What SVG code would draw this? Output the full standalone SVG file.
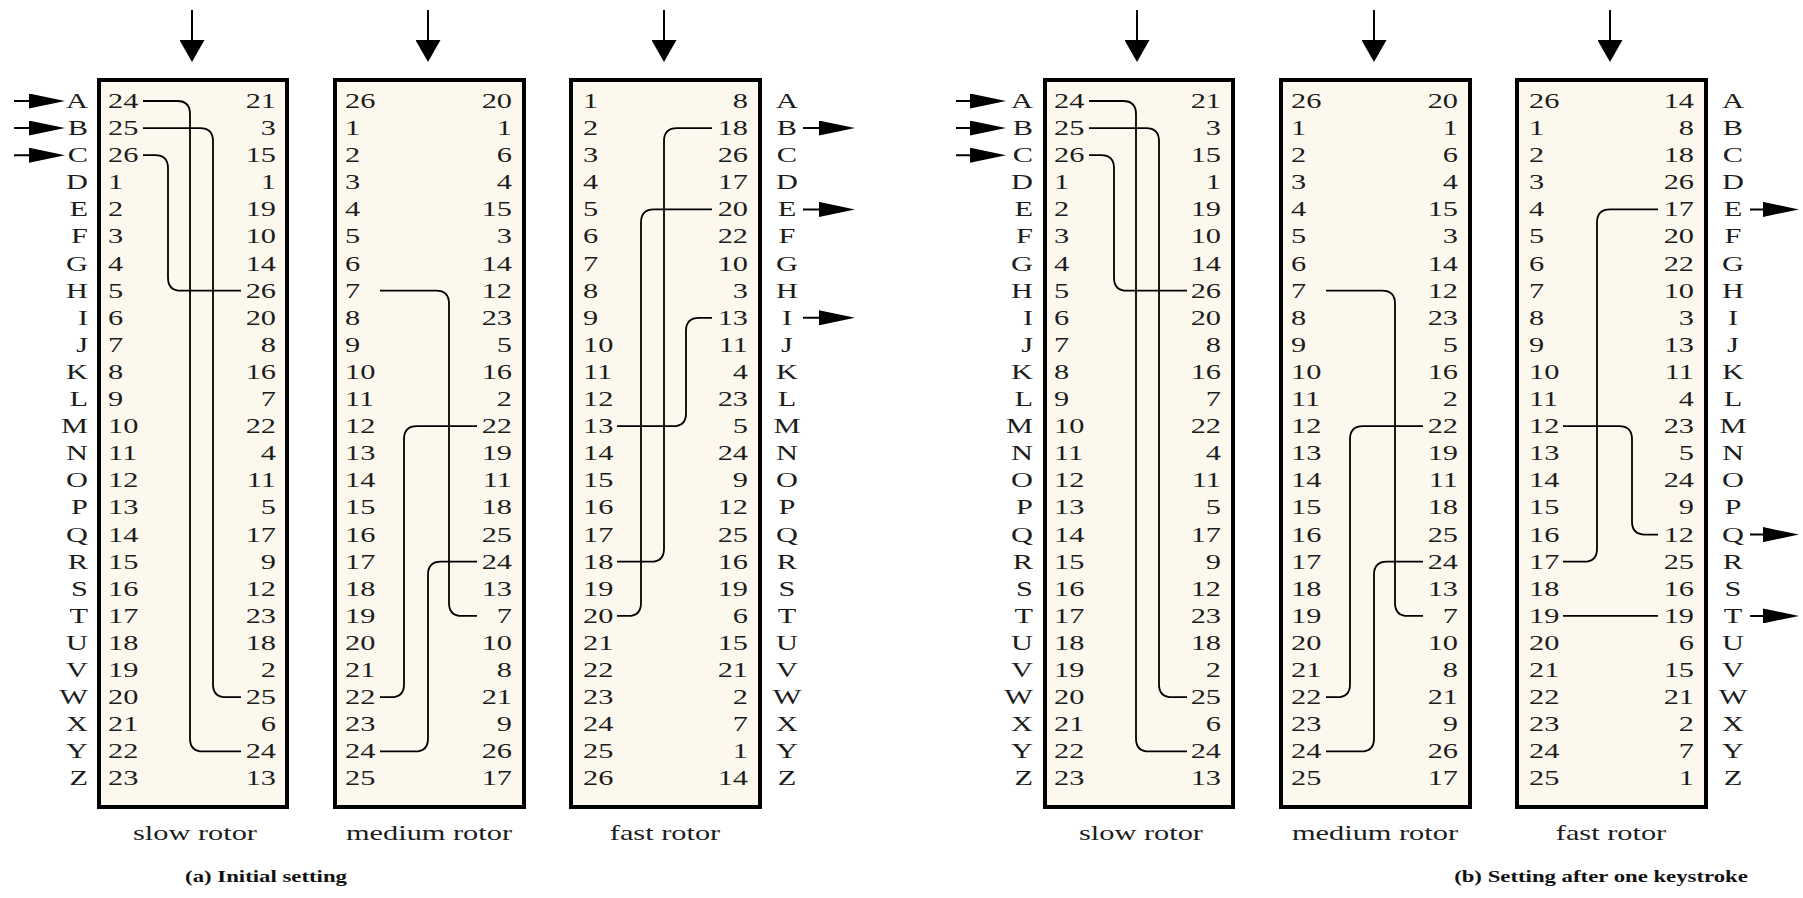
<svg xmlns="http://www.w3.org/2000/svg" width="1803" height="898" viewBox="0 0 1803 898">
<style>
  .t{font-family:"Liberation Serif","Times New Roman",serif;font-size:22px;fill:#1c1c1c}
  .e{text-anchor:end}
  .m{text-anchor:middle}
  .cap{font-family:"Liberation Serif","Times New Roman",serif;font-size:16.5px;font-weight:bold;fill:#111;text-anchor:middle}
  .box{fill:#fdf8ee;stroke:#000;stroke-width:4}
  .w{fill:none;stroke:#000;stroke-width:1.8}
  .ah{fill:none;stroke:#000;stroke-width:2}
</style>
<defs>
  <marker id="hd" viewBox="0 0 36 15" refX="26" refY="7.5" markerWidth="36" markerHeight="15" markerUnits="userSpaceOnUse" orient="auto">
    <path d="M0 0 L36 7.5 L0 15 Z" fill="#000"/>
  </marker>
  <marker id="vd" viewBox="0 0 22 25" refX="12" refY="12.5" markerWidth="22" markerHeight="25" markerUnits="userSpaceOnUse" orient="auto">
    <path d="M0 0 L22 12.5 L0 25 Z" fill="#000"/>
  </marker>
</defs>
<rect width="1803" height="898" fill="#fff"/>

<!-- (a) initial setting -->
<g id="letters-in-a" transform="translate(88 0) scale(1.38 1)">
  <text class="t e"><tspan x="0" y="108">A</tspan><tspan x="0" dy="27.1">B</tspan><tspan x="0" dy="27.1">C</tspan><tspan x="0" dy="27.1">D</tspan><tspan x="0" dy="27.1">E</tspan><tspan x="0" dy="27.1">F</tspan><tspan x="0" dy="27.1">G</tspan><tspan x="0" dy="27.1">H</tspan><tspan x="0" dy="27.1">I</tspan><tspan x="0" dy="27.1">J</tspan><tspan x="0" dy="27.1">K</tspan><tspan x="0" dy="27.1">L</tspan><tspan x="0" dy="27.1">M</tspan><tspan x="0" dy="27.1">N</tspan><tspan x="0" dy="27.1">O</tspan><tspan x="0" dy="27.1">P</tspan><tspan x="0" dy="27.1">Q</tspan><tspan x="0" dy="27.1">R</tspan><tspan x="0" dy="27.1">S</tspan><tspan x="0" dy="27.1">T</tspan><tspan x="0" dy="27.1">U</tspan><tspan x="0" dy="27.1">V</tspan><tspan x="0" dy="27.1">W</tspan><tspan x="0" dy="27.1">X</tspan><tspan x="0" dy="27.1">Y</tspan><tspan x="0" dy="27.1">Z</tspan></text>
</g>

<g id="slow-rotor-a">
  <rect class="box" x="99" y="80" width="188" height="727"/>
  <g transform="translate(108 0) scale(1.38 1)">
    <text class="t"><tspan x="0" y="108">24</tspan><tspan x="0" dy="27.1">25</tspan><tspan x="0" dy="27.1">26</tspan><tspan x="0" dy="27.1">1</tspan><tspan x="0" dy="27.1">2</tspan><tspan x="0" dy="27.1">3</tspan><tspan x="0" dy="27.1">4</tspan><tspan x="0" dy="27.1">5</tspan><tspan x="0" dy="27.1">6</tspan><tspan x="0" dy="27.1">7</tspan><tspan x="0" dy="27.1">8</tspan><tspan x="0" dy="27.1">9</tspan><tspan x="0" dy="27.1">10</tspan><tspan x="0" dy="27.1">11</tspan><tspan x="0" dy="27.1">12</tspan><tspan x="0" dy="27.1">13</tspan><tspan x="0" dy="27.1">14</tspan><tspan x="0" dy="27.1">15</tspan><tspan x="0" dy="27.1">16</tspan><tspan x="0" dy="27.1">17</tspan><tspan x="0" dy="27.1">18</tspan><tspan x="0" dy="27.1">19</tspan><tspan x="0" dy="27.1">20</tspan><tspan x="0" dy="27.1">21</tspan><tspan x="0" dy="27.1">22</tspan><tspan x="0" dy="27.1">23</tspan></text>
  </g>
  <g transform="translate(276 0) scale(1.38 1)">
    <text class="t e"><tspan x="0" y="108">21</tspan><tspan x="0" dy="27.1">3</tspan><tspan x="0" dy="27.1">15</tspan><tspan x="0" dy="27.1">1</tspan><tspan x="0" dy="27.1">19</tspan><tspan x="0" dy="27.1">10</tspan><tspan x="0" dy="27.1">14</tspan><tspan x="0" dy="27.1">26</tspan><tspan x="0" dy="27.1">20</tspan><tspan x="0" dy="27.1">8</tspan><tspan x="0" dy="27.1">16</tspan><tspan x="0" dy="27.1">7</tspan><tspan x="0" dy="27.1">22</tspan><tspan x="0" dy="27.1">4</tspan><tspan x="0" dy="27.1">11</tspan><tspan x="0" dy="27.1">5</tspan><tspan x="0" dy="27.1">17</tspan><tspan x="0" dy="27.1">9</tspan><tspan x="0" dy="27.1">12</tspan><tspan x="0" dy="27.1">23</tspan><tspan x="0" dy="27.1">18</tspan><tspan x="0" dy="27.1">2</tspan><tspan x="0" dy="27.1">25</tspan><tspan x="0" dy="27.1">6</tspan><tspan x="0" dy="27.1">24</tspan><tspan x="0" dy="27.1">13</tspan></text>
  </g>
  <text class="t m" transform="translate(195 840) scale(1.38 1)">slow rotor</text>
</g>

<g id="medium-rotor-a">
  <rect class="box" x="335" y="80" width="189" height="727"/>
  <g transform="translate(345 0) scale(1.38 1)">
    <text class="t"><tspan x="0" y="108">26</tspan><tspan x="0" dy="27.1">1</tspan><tspan x="0" dy="27.1">2</tspan><tspan x="0" dy="27.1">3</tspan><tspan x="0" dy="27.1">4</tspan><tspan x="0" dy="27.1">5</tspan><tspan x="0" dy="27.1">6</tspan><tspan x="0" dy="27.1">7</tspan><tspan x="0" dy="27.1">8</tspan><tspan x="0" dy="27.1">9</tspan><tspan x="0" dy="27.1">10</tspan><tspan x="0" dy="27.1">11</tspan><tspan x="0" dy="27.1">12</tspan><tspan x="0" dy="27.1">13</tspan><tspan x="0" dy="27.1">14</tspan><tspan x="0" dy="27.1">15</tspan><tspan x="0" dy="27.1">16</tspan><tspan x="0" dy="27.1">17</tspan><tspan x="0" dy="27.1">18</tspan><tspan x="0" dy="27.1">19</tspan><tspan x="0" dy="27.1">20</tspan><tspan x="0" dy="27.1">21</tspan><tspan x="0" dy="27.1">22</tspan><tspan x="0" dy="27.1">23</tspan><tspan x="0" dy="27.1">24</tspan><tspan x="0" dy="27.1">25</tspan></text>
  </g>
  <g transform="translate(512 0) scale(1.38 1)">
    <text class="t e"><tspan x="0" y="108">20</tspan><tspan x="0" dy="27.1">1</tspan><tspan x="0" dy="27.1">6</tspan><tspan x="0" dy="27.1">4</tspan><tspan x="0" dy="27.1">15</tspan><tspan x="0" dy="27.1">3</tspan><tspan x="0" dy="27.1">14</tspan><tspan x="0" dy="27.1">12</tspan><tspan x="0" dy="27.1">23</tspan><tspan x="0" dy="27.1">5</tspan><tspan x="0" dy="27.1">16</tspan><tspan x="0" dy="27.1">2</tspan><tspan x="0" dy="27.1">22</tspan><tspan x="0" dy="27.1">19</tspan><tspan x="0" dy="27.1">11</tspan><tspan x="0" dy="27.1">18</tspan><tspan x="0" dy="27.1">25</tspan><tspan x="0" dy="27.1">24</tspan><tspan x="0" dy="27.1">13</tspan><tspan x="0" dy="27.1">7</tspan><tspan x="0" dy="27.1">10</tspan><tspan x="0" dy="27.1">8</tspan><tspan x="0" dy="27.1">21</tspan><tspan x="0" dy="27.1">9</tspan><tspan x="0" dy="27.1">26</tspan><tspan x="0" dy="27.1">17</tspan></text>
  </g>
  <text class="t m" transform="translate(429 840) scale(1.38 1)">medium rotor</text>
</g>

<g id="fast-rotor-a">
  <rect class="box" x="571" y="80" width="189" height="727"/>
  <g transform="translate(583 0) scale(1.38 1)">
    <text class="t"><tspan x="0" y="108">1</tspan><tspan x="0" dy="27.1">2</tspan><tspan x="0" dy="27.1">3</tspan><tspan x="0" dy="27.1">4</tspan><tspan x="0" dy="27.1">5</tspan><tspan x="0" dy="27.1">6</tspan><tspan x="0" dy="27.1">7</tspan><tspan x="0" dy="27.1">8</tspan><tspan x="0" dy="27.1">9</tspan><tspan x="0" dy="27.1">10</tspan><tspan x="0" dy="27.1">11</tspan><tspan x="0" dy="27.1">12</tspan><tspan x="0" dy="27.1">13</tspan><tspan x="0" dy="27.1">14</tspan><tspan x="0" dy="27.1">15</tspan><tspan x="0" dy="27.1">16</tspan><tspan x="0" dy="27.1">17</tspan><tspan x="0" dy="27.1">18</tspan><tspan x="0" dy="27.1">19</tspan><tspan x="0" dy="27.1">20</tspan><tspan x="0" dy="27.1">21</tspan><tspan x="0" dy="27.1">22</tspan><tspan x="0" dy="27.1">23</tspan><tspan x="0" dy="27.1">24</tspan><tspan x="0" dy="27.1">25</tspan><tspan x="0" dy="27.1">26</tspan></text>
  </g>
  <g transform="translate(748 0) scale(1.38 1)">
    <text class="t e"><tspan x="0" y="108">8</tspan><tspan x="0" dy="27.1">18</tspan><tspan x="0" dy="27.1">26</tspan><tspan x="0" dy="27.1">17</tspan><tspan x="0" dy="27.1">20</tspan><tspan x="0" dy="27.1">22</tspan><tspan x="0" dy="27.1">10</tspan><tspan x="0" dy="27.1">3</tspan><tspan x="0" dy="27.1">13</tspan><tspan x="0" dy="27.1">11</tspan><tspan x="0" dy="27.1">4</tspan><tspan x="0" dy="27.1">23</tspan><tspan x="0" dy="27.1">5</tspan><tspan x="0" dy="27.1">24</tspan><tspan x="0" dy="27.1">9</tspan><tspan x="0" dy="27.1">12</tspan><tspan x="0" dy="27.1">25</tspan><tspan x="0" dy="27.1">16</tspan><tspan x="0" dy="27.1">19</tspan><tspan x="0" dy="27.1">6</tspan><tspan x="0" dy="27.1">15</tspan><tspan x="0" dy="27.1">21</tspan><tspan x="0" dy="27.1">2</tspan><tspan x="0" dy="27.1">7</tspan><tspan x="0" dy="27.1">1</tspan><tspan x="0" dy="27.1">14</tspan></text>
  </g>
  <text class="t m" transform="translate(665 840) scale(1.38 1)">fast rotor</text>
</g>

<g id="letters-out-a" transform="translate(787 0) scale(1.38 1)">
  <text class="t m"><tspan x="0" y="108">A</tspan><tspan x="0" dy="27.1">B</tspan><tspan x="0" dy="27.1">C</tspan><tspan x="0" dy="27.1">D</tspan><tspan x="0" dy="27.1">E</tspan><tspan x="0" dy="27.1">F</tspan><tspan x="0" dy="27.1">G</tspan><tspan x="0" dy="27.1">H</tspan><tspan x="0" dy="27.1">I</tspan><tspan x="0" dy="27.1">J</tspan><tspan x="0" dy="27.1">K</tspan><tspan x="0" dy="27.1">L</tspan><tspan x="0" dy="27.1">M</tspan><tspan x="0" dy="27.1">N</tspan><tspan x="0" dy="27.1">O</tspan><tspan x="0" dy="27.1">P</tspan><tspan x="0" dy="27.1">Q</tspan><tspan x="0" dy="27.1">R</tspan><tspan x="0" dy="27.1">S</tspan><tspan x="0" dy="27.1">T</tspan><tspan x="0" dy="27.1">U</tspan><tspan x="0" dy="27.1">V</tspan><tspan x="0" dy="27.1">W</tspan><tspan x="0" dy="27.1">X</tspan><tspan x="0" dy="27.1">Y</tspan><tspan x="0" dy="27.1">Z</tspan></text>
</g>

<text id="caption-a" class="cap" transform="translate(266 882) scale(1.38 1)">(a) Initial setting</text>

<!-- (b) after one keystroke -->
<g id="letters-in-b" transform="translate(1033 0) scale(1.38 1)">
  <text class="t e"><tspan x="0" y="108">A</tspan><tspan x="0" dy="27.1">B</tspan><tspan x="0" dy="27.1">C</tspan><tspan x="0" dy="27.1">D</tspan><tspan x="0" dy="27.1">E</tspan><tspan x="0" dy="27.1">F</tspan><tspan x="0" dy="27.1">G</tspan><tspan x="0" dy="27.1">H</tspan><tspan x="0" dy="27.1">I</tspan><tspan x="0" dy="27.1">J</tspan><tspan x="0" dy="27.1">K</tspan><tspan x="0" dy="27.1">L</tspan><tspan x="0" dy="27.1">M</tspan><tspan x="0" dy="27.1">N</tspan><tspan x="0" dy="27.1">O</tspan><tspan x="0" dy="27.1">P</tspan><tspan x="0" dy="27.1">Q</tspan><tspan x="0" dy="27.1">R</tspan><tspan x="0" dy="27.1">S</tspan><tspan x="0" dy="27.1">T</tspan><tspan x="0" dy="27.1">U</tspan><tspan x="0" dy="27.1">V</tspan><tspan x="0" dy="27.1">W</tspan><tspan x="0" dy="27.1">X</tspan><tspan x="0" dy="27.1">Y</tspan><tspan x="0" dy="27.1">Z</tspan></text>
</g>

<g id="slow-rotor-b">
  <rect class="box" x="1045" y="80" width="188" height="727"/>
  <g transform="translate(1054 0) scale(1.38 1)">
    <text class="t"><tspan x="0" y="108">24</tspan><tspan x="0" dy="27.1">25</tspan><tspan x="0" dy="27.1">26</tspan><tspan x="0" dy="27.1">1</tspan><tspan x="0" dy="27.1">2</tspan><tspan x="0" dy="27.1">3</tspan><tspan x="0" dy="27.1">4</tspan><tspan x="0" dy="27.1">5</tspan><tspan x="0" dy="27.1">6</tspan><tspan x="0" dy="27.1">7</tspan><tspan x="0" dy="27.1">8</tspan><tspan x="0" dy="27.1">9</tspan><tspan x="0" dy="27.1">10</tspan><tspan x="0" dy="27.1">11</tspan><tspan x="0" dy="27.1">12</tspan><tspan x="0" dy="27.1">13</tspan><tspan x="0" dy="27.1">14</tspan><tspan x="0" dy="27.1">15</tspan><tspan x="0" dy="27.1">16</tspan><tspan x="0" dy="27.1">17</tspan><tspan x="0" dy="27.1">18</tspan><tspan x="0" dy="27.1">19</tspan><tspan x="0" dy="27.1">20</tspan><tspan x="0" dy="27.1">21</tspan><tspan x="0" dy="27.1">22</tspan><tspan x="0" dy="27.1">23</tspan></text>
  </g>
  <g transform="translate(1221 0) scale(1.38 1)">
    <text class="t e"><tspan x="0" y="108">21</tspan><tspan x="0" dy="27.1">3</tspan><tspan x="0" dy="27.1">15</tspan><tspan x="0" dy="27.1">1</tspan><tspan x="0" dy="27.1">19</tspan><tspan x="0" dy="27.1">10</tspan><tspan x="0" dy="27.1">14</tspan><tspan x="0" dy="27.1">26</tspan><tspan x="0" dy="27.1">20</tspan><tspan x="0" dy="27.1">8</tspan><tspan x="0" dy="27.1">16</tspan><tspan x="0" dy="27.1">7</tspan><tspan x="0" dy="27.1">22</tspan><tspan x="0" dy="27.1">4</tspan><tspan x="0" dy="27.1">11</tspan><tspan x="0" dy="27.1">5</tspan><tspan x="0" dy="27.1">17</tspan><tspan x="0" dy="27.1">9</tspan><tspan x="0" dy="27.1">12</tspan><tspan x="0" dy="27.1">23</tspan><tspan x="0" dy="27.1">18</tspan><tspan x="0" dy="27.1">2</tspan><tspan x="0" dy="27.1">25</tspan><tspan x="0" dy="27.1">6</tspan><tspan x="0" dy="27.1">24</tspan><tspan x="0" dy="27.1">13</tspan></text>
  </g>
  <text class="t m" transform="translate(1141 840) scale(1.38 1)">slow rotor</text>
</g>

<g id="medium-rotor-b">
  <rect class="box" x="1281" y="80" width="189" height="727"/>
  <g transform="translate(1291 0) scale(1.38 1)">
    <text class="t"><tspan x="0" y="108">26</tspan><tspan x="0" dy="27.1">1</tspan><tspan x="0" dy="27.1">2</tspan><tspan x="0" dy="27.1">3</tspan><tspan x="0" dy="27.1">4</tspan><tspan x="0" dy="27.1">5</tspan><tspan x="0" dy="27.1">6</tspan><tspan x="0" dy="27.1">7</tspan><tspan x="0" dy="27.1">8</tspan><tspan x="0" dy="27.1">9</tspan><tspan x="0" dy="27.1">10</tspan><tspan x="0" dy="27.1">11</tspan><tspan x="0" dy="27.1">12</tspan><tspan x="0" dy="27.1">13</tspan><tspan x="0" dy="27.1">14</tspan><tspan x="0" dy="27.1">15</tspan><tspan x="0" dy="27.1">16</tspan><tspan x="0" dy="27.1">17</tspan><tspan x="0" dy="27.1">18</tspan><tspan x="0" dy="27.1">19</tspan><tspan x="0" dy="27.1">20</tspan><tspan x="0" dy="27.1">21</tspan><tspan x="0" dy="27.1">22</tspan><tspan x="0" dy="27.1">23</tspan><tspan x="0" dy="27.1">24</tspan><tspan x="0" dy="27.1">25</tspan></text>
  </g>
  <g transform="translate(1458 0) scale(1.38 1)">
    <text class="t e"><tspan x="0" y="108">20</tspan><tspan x="0" dy="27.1">1</tspan><tspan x="0" dy="27.1">6</tspan><tspan x="0" dy="27.1">4</tspan><tspan x="0" dy="27.1">15</tspan><tspan x="0" dy="27.1">3</tspan><tspan x="0" dy="27.1">14</tspan><tspan x="0" dy="27.1">12</tspan><tspan x="0" dy="27.1">23</tspan><tspan x="0" dy="27.1">5</tspan><tspan x="0" dy="27.1">16</tspan><tspan x="0" dy="27.1">2</tspan><tspan x="0" dy="27.1">22</tspan><tspan x="0" dy="27.1">19</tspan><tspan x="0" dy="27.1">11</tspan><tspan x="0" dy="27.1">18</tspan><tspan x="0" dy="27.1">25</tspan><tspan x="0" dy="27.1">24</tspan><tspan x="0" dy="27.1">13</tspan><tspan x="0" dy="27.1">7</tspan><tspan x="0" dy="27.1">10</tspan><tspan x="0" dy="27.1">8</tspan><tspan x="0" dy="27.1">21</tspan><tspan x="0" dy="27.1">9</tspan><tspan x="0" dy="27.1">26</tspan><tspan x="0" dy="27.1">17</tspan></text>
  </g>
  <text class="t m" transform="translate(1375 840) scale(1.38 1)">medium rotor</text>
</g>

<g id="fast-rotor-b">
  <rect class="box" x="1517" y="80" width="189" height="727"/>
  <g transform="translate(1529 0) scale(1.38 1)">
    <text class="t"><tspan x="0" y="108">26</tspan><tspan x="0" dy="27.1">1</tspan><tspan x="0" dy="27.1">2</tspan><tspan x="0" dy="27.1">3</tspan><tspan x="0" dy="27.1">4</tspan><tspan x="0" dy="27.1">5</tspan><tspan x="0" dy="27.1">6</tspan><tspan x="0" dy="27.1">7</tspan><tspan x="0" dy="27.1">8</tspan><tspan x="0" dy="27.1">9</tspan><tspan x="0" dy="27.1">10</tspan><tspan x="0" dy="27.1">11</tspan><tspan x="0" dy="27.1">12</tspan><tspan x="0" dy="27.1">13</tspan><tspan x="0" dy="27.1">14</tspan><tspan x="0" dy="27.1">15</tspan><tspan x="0" dy="27.1">16</tspan><tspan x="0" dy="27.1">17</tspan><tspan x="0" dy="27.1">18</tspan><tspan x="0" dy="27.1">19</tspan><tspan x="0" dy="27.1">20</tspan><tspan x="0" dy="27.1">21</tspan><tspan x="0" dy="27.1">22</tspan><tspan x="0" dy="27.1">23</tspan><tspan x="0" dy="27.1">24</tspan><tspan x="0" dy="27.1">25</tspan></text>
  </g>
  <g transform="translate(1694 0) scale(1.38 1)">
    <text class="t e"><tspan x="0" y="108">14</tspan><tspan x="0" dy="27.1">8</tspan><tspan x="0" dy="27.1">18</tspan><tspan x="0" dy="27.1">26</tspan><tspan x="0" dy="27.1">17</tspan><tspan x="0" dy="27.1">20</tspan><tspan x="0" dy="27.1">22</tspan><tspan x="0" dy="27.1">10</tspan><tspan x="0" dy="27.1">3</tspan><tspan x="0" dy="27.1">13</tspan><tspan x="0" dy="27.1">11</tspan><tspan x="0" dy="27.1">4</tspan><tspan x="0" dy="27.1">23</tspan><tspan x="0" dy="27.1">5</tspan><tspan x="0" dy="27.1">24</tspan><tspan x="0" dy="27.1">9</tspan><tspan x="0" dy="27.1">12</tspan><tspan x="0" dy="27.1">25</tspan><tspan x="0" dy="27.1">16</tspan><tspan x="0" dy="27.1">19</tspan><tspan x="0" dy="27.1">6</tspan><tspan x="0" dy="27.1">15</tspan><tspan x="0" dy="27.1">21</tspan><tspan x="0" dy="27.1">2</tspan><tspan x="0" dy="27.1">7</tspan><tspan x="0" dy="27.1">1</tspan></text>
  </g>
  <text class="t m" transform="translate(1611 840) scale(1.38 1)">fast rotor</text>
</g>

<g id="letters-out-b" transform="translate(1733 0) scale(1.38 1)">
  <text class="t m"><tspan x="0" y="108">A</tspan><tspan x="0" dy="27.1">B</tspan><tspan x="0" dy="27.1">C</tspan><tspan x="0" dy="27.1">D</tspan><tspan x="0" dy="27.1">E</tspan><tspan x="0" dy="27.1">F</tspan><tspan x="0" dy="27.1">G</tspan><tspan x="0" dy="27.1">H</tspan><tspan x="0" dy="27.1">I</tspan><tspan x="0" dy="27.1">J</tspan><tspan x="0" dy="27.1">K</tspan><tspan x="0" dy="27.1">L</tspan><tspan x="0" dy="27.1">M</tspan><tspan x="0" dy="27.1">N</tspan><tspan x="0" dy="27.1">O</tspan><tspan x="0" dy="27.1">P</tspan><tspan x="0" dy="27.1">Q</tspan><tspan x="0" dy="27.1">R</tspan><tspan x="0" dy="27.1">S</tspan><tspan x="0" dy="27.1">T</tspan><tspan x="0" dy="27.1">U</tspan><tspan x="0" dy="27.1">V</tspan><tspan x="0" dy="27.1">W</tspan><tspan x="0" dy="27.1">X</tspan><tspan x="0" dy="27.1">Y</tspan><tspan x="0" dy="27.1">Z</tspan></text>
</g>

<text id="caption-b" class="cap" transform="translate(1601 882) scale(1.38 1)">(b) Setting after one keystroke</text>

<!-- rotor wiring and signal arrows -->
<g id="connectors">
  <g class="w">
    <!-- slow rotor (a) -->
    <path d="M143 101 H177 Q190 101 190 114 V738.4 Q190 751.4 203 751.4 H241"/>
    <path d="M143 128.1 H200 Q213 128.1 213 141.1 V684.2 Q213 697.2 226 697.2 H241"/>
    <path d="M143 155.2 H155 Q168 155.2 168 168.2 V277.7 Q168 290.7 181 290.7 H241"/>
    <!-- medium rotor (a) -->
    <path d="M380 290.7 H436 Q449 290.7 449 303.7 V602.9 Q449 615.9 462 615.9 H477"/>
    <path d="M380 697.2 H391 Q404 697.2 404 684.2 V439.2 Q404 426.2 417 426.2 H477"/>
    <path d="M380 751.4 H415 Q428 751.4 428 738.4 V574.7 Q428 561.7 441 561.7 H477"/>
    <!-- fast rotor (a) -->
    <path d="M617 561.7 H651 Q664 561.7 664 548.7 V141.1 Q664 128.1 677 128.1 H712"/>
    <path d="M617 615.9 H628 Q641 615.9 641 602.9 V222.4 Q641 209.4 654 209.4 H712"/>
    <path d="M617 426.2 H673 Q686 426.2 686 413.2 V330.8 Q686 317.8 699 317.8 H712"/>
    <!-- slow rotor (b) -->
    <path d="M1089 101 H1123 Q1136 101 1136 114 V738.4 Q1136 751.4 1149 751.4 H1187"/>
    <path d="M1089 128.1 H1146 Q1159 128.1 1159 141.1 V684.2 Q1159 697.2 1172 697.2 H1187"/>
    <path d="M1089 155.2 H1101 Q1114 155.2 1114 168.2 V277.7 Q1114 290.7 1127 290.7 H1187"/>
    <!-- medium rotor (b) -->
    <path d="M1326 290.7 H1382 Q1395 290.7 1395 303.7 V602.9 Q1395 615.9 1408 615.9 H1423"/>
    <path d="M1326 697.2 H1337 Q1350 697.2 1350 684.2 V439.2 Q1350 426.2 1363 426.2 H1423"/>
    <path d="M1326 751.4 H1361 Q1374 751.4 1374 738.4 V574.7 Q1374 561.7 1387 561.7 H1423"/>
    <!-- fast rotor (b) -->
    <path d="M1563 426.2 H1619 Q1632 426.2 1632 439.2 V521.6 Q1632 534.6 1645 534.6 H1658"/>
    <path d="M1563 561.7 H1584 Q1597 561.7 1597 548.7 V222.4 Q1597 209.4 1610 209.4 H1658"/>
    <path d="M1563 615.9 H1658"/>
  </g>
  <g class="ah">
    <!-- stepping arrows above the rotors -->
    <path d="M192 10 V52" marker-end="url(#vd)"/>
    <path d="M428 10 V52" marker-end="url(#vd)"/>
    <path d="M664 10 V52" marker-end="url(#vd)"/>
    <path d="M1137 10 V52" marker-end="url(#vd)"/>
    <path d="M1374 10 V52" marker-end="url(#vd)"/>
    <path d="M1610 10 V52" marker-end="url(#vd)"/>
    <!-- inputs -->
    <path d="M14 101 H55" marker-end="url(#hd)"/>
    <path d="M14 128.1 H55" marker-end="url(#hd)"/>
    <path d="M14 155.2 H55" marker-end="url(#hd)"/>
    <path d="M956 101 H996" marker-end="url(#hd)"/>
    <path d="M956 128.1 H996" marker-end="url(#hd)"/>
    <path d="M956 155.2 H996" marker-end="url(#hd)"/>
    <!-- outputs -->
    <path d="M803 128.1 H845" marker-end="url(#hd)"/>
    <path d="M803 209.4 H845" marker-end="url(#hd)"/>
    <path d="M803 317.8 H845" marker-end="url(#hd)"/>
    <path d="M1750 209.4 H1789" marker-end="url(#hd)"/>
    <path d="M1750 534.6 H1789" marker-end="url(#hd)"/>
    <path d="M1750 615.9 H1789" marker-end="url(#hd)"/>
  </g>
</g>
</svg>
